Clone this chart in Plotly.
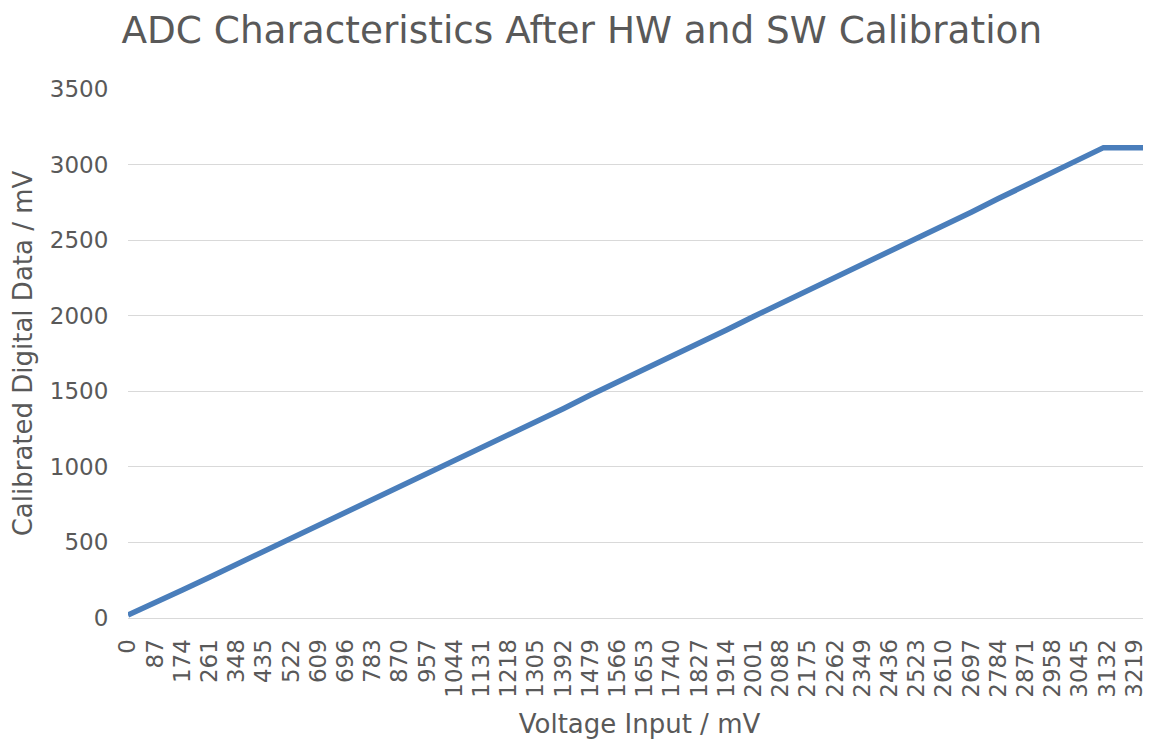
import plotly.graph_objects as go

voltage_in = [0, 87, 174, 261, 348, 435, 522, 609, 696, 783, 870, 957, 1044, 1131,
              1218, 1305, 1392, 1479, 1566, 1653, 1740, 1827, 1914, 2001, 2088, 2175,
              2262, 2349, 2436, 2523, 2610, 2697, 2784, 2871, 2958, 3045, 3120, 3132,
              3219, 3272]
calibrated = [20, 100, 185, 270, 355, 445, 530, 615, 705, 790, 875, 960, 1045, 1130,
              1215, 1300, 1385, 1475, 1560, 1645, 1730, 1820, 1905, 1995, 2080, 2165,
              2250, 2340, 2425, 2510, 2600, 2685, 2775, 2860, 2950, 3035, 3112, 3112,
              3112, 3112]
tick_vals = list(range(0, 3220, 87))
tick_text = [str(v) for v in tick_vals]

font = "DejaVu Sans"
grey = "#595959"

fig = go.Figure(go.Scatter(x=voltage_in, y=calibrated, mode="lines",
                           line=dict(color="#4a7ebb", width=5.5), hoverinfo="x+y"))

fig.update_layout(
    width=1151, height=740,
    margin=dict(l=120, r=8, t=81, b=130),
    paper_bgcolor="white", plot_bgcolor="white",
    showlegend=False,
    font=dict(family=font, color=grey),
    title=dict(text="ADC Characteristics After HW and SW Calibration",
               font=dict(family=font, size=37.4, color=grey),
               x=0.4985, xanchor="center", xref="container",
               y=0.970, yanchor="middle", yref="container"),
)
fig.update_xaxes(
    range=[0, 3272], tickmode="array", tickvals=tick_vals, ticktext=tick_text,
    tickangle=-90, tickfont=dict(size=23, color=grey), ticklabeloverflow="allow",
    ticks="outside", ticklen=11, tickcolor="rgba(0,0,0,0)",
    showgrid=False, showline=False, zeroline=False,
    title=dict(text="Voltage Input / mV", font=dict(size=26, color=grey), standoff=18),
)
fig.update_yaxes(
    range=[0, 3500], dtick=500, tickfont=dict(size=23, color=grey),
    ticks="outside", ticklen=14, tickcolor="rgba(0,0,0,0)",
    showgrid=True, gridcolor="#d9d9d9", gridwidth=1.3,
    zeroline=True, zerolinecolor="#d9d9d9", zerolinewidth=1.3,
    title=dict(text="Calibrated Digital Data / mV", font=dict(size=26, color=grey), standoff=12),
)

fig.write_html("out.html")
